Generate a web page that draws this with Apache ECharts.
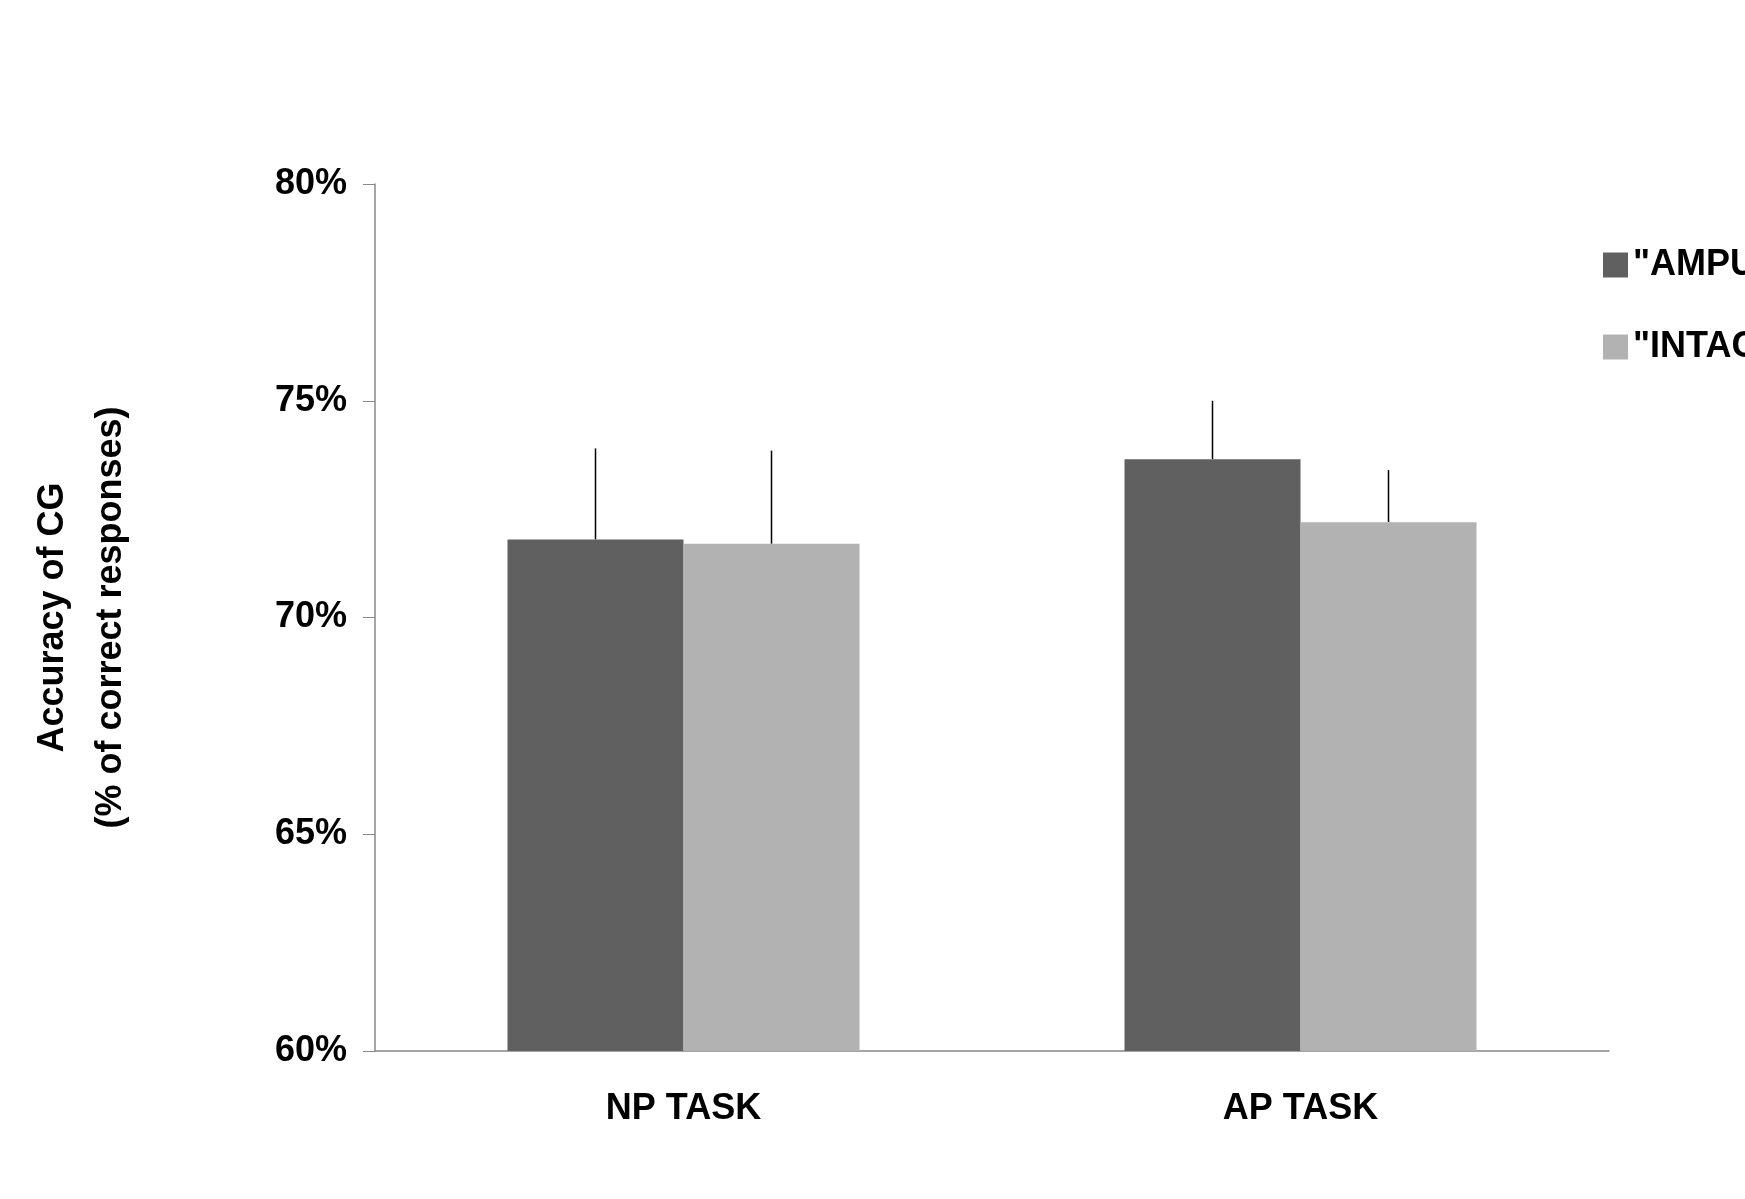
<!DOCTYPE html>
<html><head><meta charset="utf-8">
<script src="https://cdn.jsdelivr.net/npm/echarts@6/dist/echarts.min.js"></script>
<style>html,body{margin:0;background:#fff}#c{width:1745px;height:1199px}</style>
</head><body><div id="c"></div>
<script>
const categories = ['NP TASK', 'AP TASK']
const seriesNames = ['"AMPUTATED" HAND', '"INTACT" HAND']
const amputated = [71.8, 73.65]
const intact = [71.7, 72.2]
const amputatedErr = [2.1, 1.35]
const intactErr = [2.15, 1.2]
const colors = ['#606060', '#b2b2b2']

const chart = echarts.init(document.getElementById('c'))
const font = { fontFamily: 'Liberation Sans', fontWeight: 'bold', color: '#000', fontSize: 36 }

const errSeries = (vals, errs, idx) => ({
  type: 'custom',
  z: 1,
  silent: true,
  data: vals.map((v, i) => [i, v, v + errs[i]]),
  renderItem: (params, api) => {
    const size = api.size([1, 0])[0]
    const off = (idx === 0 ? -0.5 : 0.5) * 176
    const p0 = api.coord([api.value(0), api.value(1)])
    const p1 = api.coord([api.value(0), api.value(2)])
    return { type: 'line', shape: { x1: p0[0] + off, y1: p0[1], x2: p1[0] + off, y2: p1[1] },
      style: { stroke: '#000', lineWidth: 1.5 } }
  }
})

chart.setOption({
  animation: false,
  grid: { left: 375, right: 136, top: 184, bottom: 148 },
  legend: {
    left: 1598, top: 242, orient: 'vertical', itemGap: 46,
    itemWidth: 25, itemHeight: 25, icon: 'rect',
    textStyle: { ...font, fontSize: 36 },
    data: seriesNames
  },
  xAxis: {
    type: 'category', data: categories,
    axisLine: { lineStyle: { color: '#888', width: 1.5 } },
    axisTick: { length: 16, lineStyle: { color: '#888' } },
    axisLabel: { ...font, margin: 40 }
  },
  yAxis: {
    type: 'value', min: 60, max: 80, interval: 5,
    name: 'Accuracy of CG\n(% of correct responses)',
    nameLocation: 'middle', nameGap: 235, nameRotate: 90,
    nameTextStyle: { ...font, lineHeight: 58 },
    axisLine: { show: true, lineStyle: { color: '#888', width: 1.5 } },
    axisTick: { show: true, length: 12, lineStyle: { color: '#888' } },
    splitLine: { show: false },
    axisLabel: { ...font, margin: 28, formatter: v => v + '%' }
  },
  series: [
    { name: seriesNames[0], type: 'bar', data: amputated, barWidth: 176, barGap: '0%', itemStyle: { color: colors[0] }, z: 2 },
    { name: seriesNames[1], type: 'bar', data: intact, barWidth: 176, itemStyle: { color: colors[1] }, z: 2 },
    errSeries(amputated, amputatedErr, 0),
    errSeries(intact, intactErr, 1)
  ]
})
</script></body></html>
